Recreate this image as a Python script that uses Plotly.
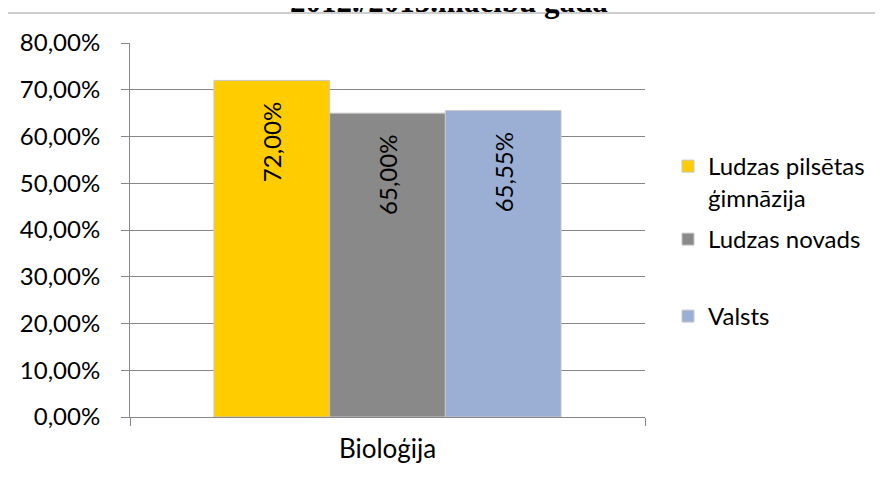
import plotly.graph_objects as go

categories = ["Bioloģija"]
series_names = ["Ludzas pilsētas<br>ģimnāzija", "Ludzas novads", "Valsts"]
series_values = [[0.72], [0.65], [0.6555]]
series_colors = ["#FFCC00", "#898989", "#9BAED4"]
title_text = "2012./2013.mācību gada"

W, H = 883, 479
OFF = 8  # page body margin
# plot area bounds in screen pixels
SL, SR, ST, SB = 130, 645, 43, 417
L, R, T, B = SL - OFF, SR - OFF, ST - OFF, SB - OFF

def px_x(p):
    return (p - SL) / (SR - SL)

def px_y(p):
    return (SB - p) / (SB - ST)

FONT = "Lato"
fig = go.Figure()
legend_ids = ["legend", "legend2", "legend3"]
for name, vals, col, lg in zip(series_names, series_values, series_colors, legend_ids):
    fig.add_trace(go.Bar(
        x=categories, y=vals, name=name,
        marker=dict(color=col, line=dict(color="#C8C8C8", width=1)),
        texttemplate="%{y:.2%}" + "\u00a0" * 3,
        textposition="inside", insidetextanchor="end", textangle=-90,
        textfont=dict(family=FONT, size=24, color="black"),
        legend=lg,
    ))

leg_common = dict(font=dict(family=FONT, size=24, color="black"), bgcolor="rgba(0,0,0,0)",
                  xanchor="left", yanchor="top", valign="top", itemclick=False)
fig.update_layout(
    width=W, height=H,
    margin=dict(l=L, r=W - R, t=T, b=H - B, pad=0),
    paper_bgcolor="white", plot_bgcolor="white",
    separators=", ",
    barmode="group", bargap=0.326, bargroupgap=0,
    showlegend=True,
    legend=dict(x=px_x(668), y=px_y(144), **leg_common),
    legend2=dict(x=px_x(668), y=px_y(217), **leg_common),
    legend3=dict(x=px_x(668), y=px_y(294), **leg_common),
    xaxis=dict(showline=True, linecolor="#878787", linewidth=1, ticks="outside", ticklen=8,
               tickcolor="#878787", tickson="boundaries", showgrid=False,
               tickfont=dict(family=FONT, size=26, color="black"), ticklabelstandoff=9),
    yaxis=dict(range=[0, 0.8], dtick=0.1, tickformat=".2%", showline=True, linecolor="#878787",
               linewidth=1, ticks="outside", ticklen=8, tickcolor="#878787",
               gridcolor="#878787", gridwidth=1, zeroline=False,
               tickfont=dict(family=FONT, size=24, color="black"), ticklabelstandoff=16),
    shapes=[dict(type="rect", xref="paper", yref="paper", x0=px_x(4), x1=px_x(1000),
                 y0=px_y(600), y1=px_y(13), line=dict(color="#BFBFBF", width=1.5),
                 fillcolor="rgba(0,0,0,0)", layer="below")],
    annotations=[dict(text="<b>" + title_text + "</b>", xref="paper", yref="paper",
                      x=px_x(449), y=px_y(21), xanchor="center", yanchor="bottom",
                      showarrow=False, font=dict(family="Liberation Serif", size=31, color="black"))],
)
fig.write_html("out.html")
